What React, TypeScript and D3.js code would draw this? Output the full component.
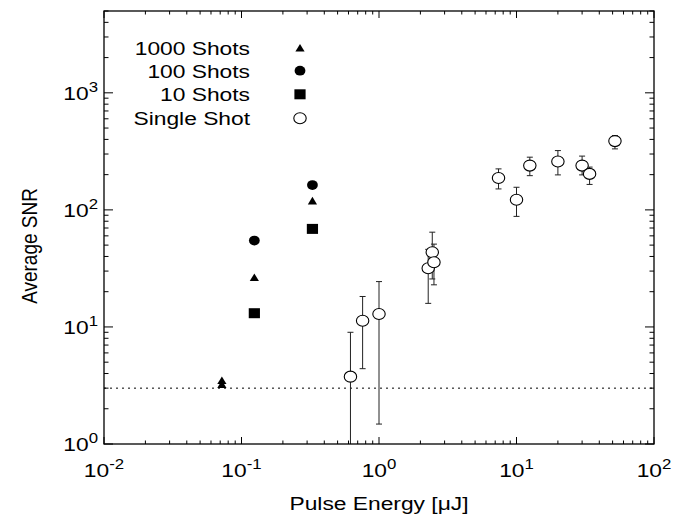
import React from "react";
import * as d3 from "d3";

const W = 674;
const H = 521;

// Data
const shots1000X = [0.072, 0.072, 0.124, 0.328];
const shots1000Y = [3.5, 3.25, 26.6, 120];
const shots100X = [0.124, 0.328];
const shots100Y = [54.7, 163];
const shots10X = [0.124, 0.328];
const shots10Y = [13.1, 68.8];
const singleX = [0.62, 0.76, 1.0, 2.28, 2.44, 2.51, 7.4, 10, 12.5, 20, 30, 34, 52];
const singleY = [3.76, 11.3, 12.9, 31.7, 43.5, 35.7, 187, 122, 239, 259, 239, 203, 387];
const singleLo = [0.3, 4.4, 1.48, 15.9, 25.7, 22.9, 151, 88, 196, 199, 199, 165, 332];
const singleHi = [9.0, 18.2, 24.4, 46, 64.5, 51, 224, 156, 282, 321, 288, 232, 431];
const thresholdSNR = 3;
const xTickExps = [-2, -1, 0, 1, 2];
const yTickExps = [0, 1, 2, 3];
const legendLabels = ["1000 Shots", "100 Shots", "10 Shots", "Single Shot"];

const FONT = "'Liberation Sans', Arial, Helvetica, sans-serif";
const SX = 1.2; // horizontal text stretch
const FS = 19;
const SUP = 14;

export default function App() {
  const left = 104, right = 654, top = 11, bottom = 444;
  const x = d3.scaleLog().domain([0.01, 100]).range([left, right]);
  const y = d3.scaleLog().domain([1, 5000]).range([bottom, top]);

  const xMinor: number[] = [];
  for (let e = -2; e < 2; e++) for (let k = 2; k <= 9; k++) xMinor.push(k * Math.pow(10, e));
  const yMinor: number[] = [];
  for (let e = 0; e < 4; e++) for (let k = 2; k <= 9; k++) {
    const v = k * Math.pow(10, e);
    if (v <= 5000) yMinor.push(v);
  }

  const tri = (cx: number, cy: number, key: string) => {
    const hw = 4.6, hh = 3.8;
    return (
      <path key={key} d={`M${cx - hw},${cy + hh}L${cx + hw},${cy + hh}L${cx},${cy - hh}Z`} fill="black" />
    );
  };
  const dot = (cx: number, cy: number, key: string) => (
    <ellipse key={key} cx={cx} cy={cy} rx={5.4} ry={4.9} fill="black" />
  );
  const sq = (cx: number, cy: number, key: string) => (
    <rect key={key} x={cx - 5.6} y={cy - 5} width={11.2} height={10} fill="black" />
  );
  const ring = (cx: number, cy: number, key: string) => (
    <ellipse key={key} cx={cx} cy={cy} rx={6.2} ry={5.5} fill="white" stroke="black" strokeWidth={1.1} />
  );

  const legendX = 300;
  const legendTextX = 250;
  const legendYs = [47.7, 70.7, 94.3, 118.3];
  const legendMarks = [tri, dot, sq, ring];

  return (
    <svg width={W} height={H} style={{ position: "absolute", left: 0, top: 0, background: "white" }}>
      <defs>
        <clipPath id="plotClip">
          <rect x={left} y={top} width={right - left} height={bottom - top} />
        </clipPath>
      </defs>
      <rect x={0} y={0} width={W} height={H} fill="white" />

      {/* ticks */}
      <g stroke="black" strokeWidth={1}>
        {xMinor.map((v, i) => (
          <g key={"xm" + i}>
            <line x1={x(v)} x2={x(v)} y1={bottom} y2={bottom - 3.5} />
            <line x1={x(v)} x2={x(v)} y1={top} y2={top + 3.5} />
          </g>
        ))}
        {yMinor.map((v, i) => (
          <g key={"ym" + i}>
            <line x1={left} x2={left + 4.5} y1={y(v)} y2={y(v)} />
            <line x1={right} x2={right - 4.5} y1={y(v)} y2={y(v)} />
          </g>
        ))}
        {xTickExps.map((e) => (
          <g key={"xM" + e}>
            <line x1={x(Math.pow(10, e))} x2={x(Math.pow(10, e))} y1={bottom} y2={bottom - 7} />
            <line x1={x(Math.pow(10, e))} x2={x(Math.pow(10, e))} y1={top} y2={top + 7} />
          </g>
        ))}
        {yTickExps.map((e) => (
          <g key={"yM" + e}>
            <line x1={left} x2={left + 9} y1={y(Math.pow(10, e))} y2={y(Math.pow(10, e))} />
            <line x1={right} x2={right - 9} y1={y(Math.pow(10, e))} y2={y(Math.pow(10, e))} />
          </g>
        ))}
      </g>

      {/* threshold */}
      <line x1={left} x2={right} y1={y(thresholdSNR)} y2={y(thresholdSNR)} stroke="black" strokeWidth={1} strokeDasharray="2,4" />

      {/* error bars */}
      <g clipPath="url(#plotClip)" stroke="#222" strokeWidth={1}>
        {singleX.map((xv, i) => {
          const cx = x(xv);
          const y1 = y(singleLo[i]);
          const y2 = y(singleHi[i]);
          return (
            <g key={"eb" + i}>
              <line x1={cx} x2={cx} y1={y1} y2={y2} />
              <line x1={cx - 3} x2={cx + 3} y1={y1} y2={y1} />
              <line x1={cx - 3} x2={cx + 3} y1={y2} y2={y2} />
            </g>
          );
        })}
      </g>

      {/* markers */}
      <g>
        {singleX.map((xv, i) => ring(x(xv), y(singleY[i]), "s" + i))}
        {shots10X.map((xv, i) => sq(x(xv), y(shots10Y[i]), "q" + i))}
        {shots100X.map((xv, i) => dot(x(xv), y(shots100Y[i]), "d" + i))}
        {shots1000X.map((xv, i) => tri(x(xv), y(shots1000Y[i]), "t" + i))}
      </g>

      {/* frame */}
      <rect x={left} y={top} width={right - left} height={bottom - top} fill="none" stroke="black" strokeWidth={1.3} />

      {/* tick labels */}
      <g fontFamily={FONT} fill="black">
        {xTickExps.map((e) => (
          <g key={"xl" + e} transform={`translate(${x(Math.pow(10, e))},477) scale(${SX},1)`}>
            <text x={0} y={0} textAnchor="middle" fontSize={FS}>
              10<tspan fontSize={SUP} dy={-8}>{e === 0 ? "0" : e < 0 ? "-" + -e : String(e)}</tspan>
            </text>
          </g>
        ))}
        {yTickExps.map((e) => (
          <g key={"yl" + e} transform={`translate(98,${y(Math.pow(10, e)) + 7}) scale(${SX},1)`}>
            <text x={0} y={0} textAnchor="end" fontSize={FS}>
              10<tspan fontSize={SUP} dy={-8}>{String(e)}</tspan>
            </text>
          </g>
        ))}
      </g>

      {/* axis titles */}
      <g fontFamily={FONT} fill="black">
        <g transform={`translate(${(left + right) / 2},510) scale(${SX},1)`}>
          <text x={0} y={0} textAnchor="middle" fontSize={FS}>Pulse Energy [μJ]</text>
        </g>
        <g transform={`translate(37,246) scale(${SX},1) rotate(-90)`}>
          <text x={0} y={0} textAnchor="middle" fontSize={FS}>Average SNR</text>
        </g>
      </g>

      {/* legend */}
      <g fontFamily={FONT} fill="black">
        {legendLabels.map((lab, i) => (
          <g key={"lg" + i}>
            <g transform={`translate(${legendTextX},${legendYs[i] + 6.8}) scale(${SX},1)`}>
              <text x={0} y={0} textAnchor="end" fontSize={FS}>{lab}</text>
            </g>
            {legendMarks[i](legendX, legendYs[i], "lm" + i)}
          </g>
        ))}
      </g>
    </svg>
  );
}
